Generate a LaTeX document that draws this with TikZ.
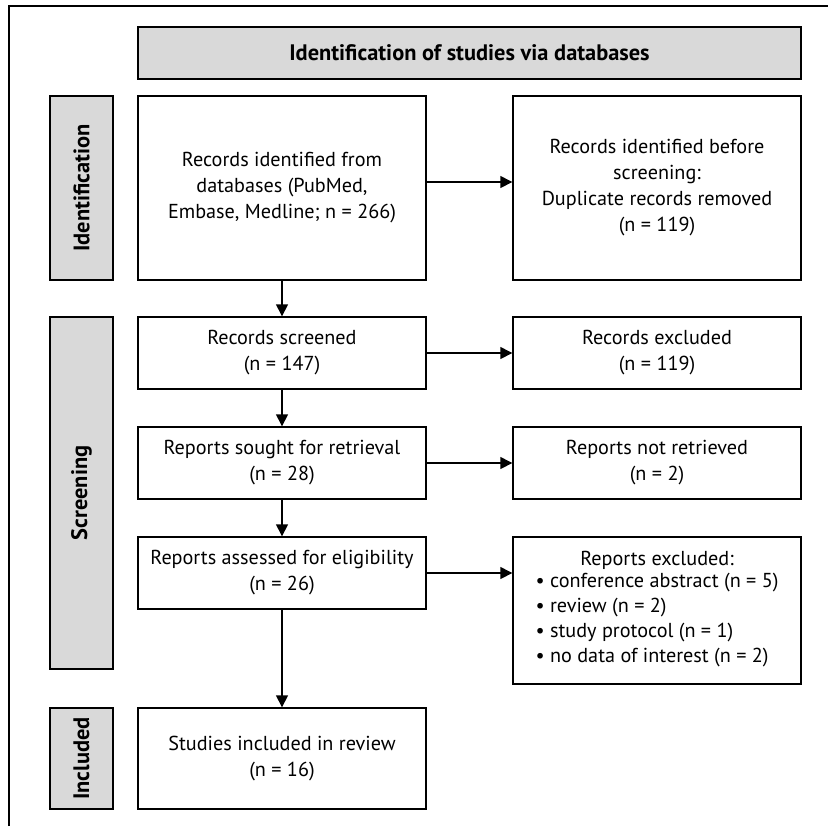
\documentclass[tikz,border=0pt]{standalone}
\usepackage{fontspec}
\setmainfont{PT Sans}
\usetikzlibrary{arrows.meta}
\definecolor{phasegray}{HTML}{D9D9D9}

\begin{document}
\begin{tikzpicture}[x=0.5pt, y=-0.5pt, every node/.style={font=\fontsize{10.1}{13}\selectfont},
box/.style={draw, line width=0.7pt, fill=white, align=center, inner sep=0pt, minimum width=144pt},
phase/.style={draw, line width=0.7pt, fill=phasegray, inner sep=0pt, minimum height=31.5pt, rotate=90, font=\fontsize{11.2}{13}\selectfont\bfseries},
arrow/.style={line width=0.7pt, -{Triangle[length=6pt, width=6pt]}}]

\useasboundingbox (0,0) rectangle (828,826);
\draw[line width=0.7pt] (9,826) -- (9,6) -- (828,6);

\node[draw, line width=0.7pt, fill=phasegray, inner sep=0pt, minimum width=331.5pt, minimum height=26pt, font=\fontsize{11.2}{13}\selectfont\bfseries] (0) at (469.5,53) {Identification of studies via databases};

\node[phase, minimum width=92pt]  (p1) at (81.5,188)   {Identification};
\node[phase, minimum width=176pt] (p2) at (81.5,493)   {Screening};
\node[phase, minimum width=50.5pt] (p3) at (81.5,758.5) {Included};

\node[box, minimum height=92pt]   (1) at (282,188) {Records identified from\\databases (PubMed,\\Embase, Medline; n = 266)};
\node[box, minimum height=92pt]   (2) at (657,188) {Records identified before\\screening:\\Duplicate records removed\\(n = 119)};
\node[box, minimum height=36pt]   (3) at (282,353) {Records screened\\(n = 147)};
\node[box, minimum height=36pt]   (4) at (657,353) {Records excluded\\(n = 119)};
\node[box, minimum height=36pt]   (5) at (282,463) {Reports sought for retrieval\\(n = 28)};
\node[box, minimum height=36pt]   (6) at (657,463) {Reports not retrieved\\(n = 2)};
\node[box, minimum height=36pt]   (7) at (282,573) {Reports assessed for eligibility\\(n = 26)};
\node[box, minimum height=73.5pt] (8) at (657,610.5) {Reports excluded:\\[-1pt]
  \begin{tabular}{@{}l@{}}
  \textbullet\ conference abstract (n = 5)\\[-0.5pt]
  \textbullet\ review (n = 2)\\[-0.5pt]
  \textbullet\ study protocol (n = 1)\\[-0.5pt]
  \textbullet\ no data of interest (n = 2)
  \end{tabular}};
\node[box, minimum height=50.5pt] (9) at (282,758.5) {Studies included in review\\(n = 16)};

\draw[arrow] (1) -- (3);
\draw[arrow] (3) -- (5);
\draw[arrow] (5) -- (7);
\draw[arrow] (7) -- (9);
\draw[arrow] ([yshift=3pt]1.east) -- ([yshift=3pt]1.east -| 2.west);
\draw[arrow] (3) -- (4);
\draw[arrow] (5) -- (6);
\draw[arrow] (7.east) -- (7.east -| 8.west);

\end{tikzpicture}
\end{document}
